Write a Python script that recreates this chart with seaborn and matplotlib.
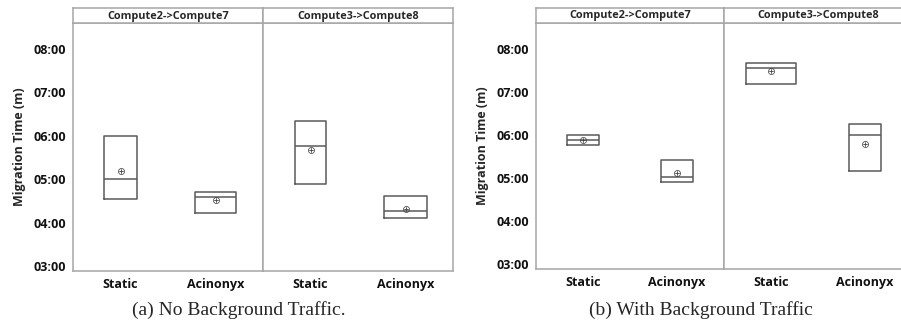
import numpy as np
import pandas as pd
import matplotlib
matplotlib.use("Agg")
import matplotlib.pyplot as plt
import matplotlib.ticker as ticker
import seaborn as sns

# categories
routes = ["Compute2->Compute7", "Compute3->Compute8"]
methods = ["Static", "Acinonyx"]
captions = ["(a) No Background Traffic.", "(b) With Background Traffic"]

# migration time in minutes, order: C2 Static, C2 Acinonyx, C3 Static, C3 Acinonyx
nobg_q1 = [4.54, 4.23, 4.89, 4.11]
nobg_med = [5.00, 4.60, 5.77, 4.26]
nobg_q3 = [6.00, 4.71, 6.35, 4.61]
nobg_mean = [5.18, 4.51, 5.67, 4.32]

bg_q1 = [5.77, 4.90, 7.19, 5.17]
bg_med = [5.89, 5.02, 7.55, 5.99]
bg_q3 = [5.99, 5.41, 7.67, 6.25]
bg_mean = [5.89, 5.11, 7.47, 5.79]

# box widths (category units)
nobg_w = [0.34, 0.43, 0.33, 0.45]
bg_w = [0.34, 0.33, 0.54, 0.34]

sns.set_style("white")
plt.rcParams["font.family"] = ["Open Sans", "DejaVu Sans"]

FRAME = "#a6a6a6"
BOXC = "#5a5a5a"


def mmss(v, pos=None):
    m = int(v)
    s = int(round((v - m) * 60))
    return "%02d:%02d" % (m, s)


def draw_chart(fig, left, bottom, pw, ph, q1, med, q3, mean, widths, caption, cap_x):
    df = pd.DataFrame({
        "route": np.repeat(routes, 2),
        "method": methods * 2,
        "q1": q1, "med": med, "q3": q3, "mean": mean, "w": widths,
    })
    axes = []
    for i, r in enumerate(routes):
        ax = fig.add_axes([left + i * pw, bottom, pw, ph])
        sub = df[df.route == r].reset_index(drop=True)
        stats = []
        for _, row in sub.iterrows():
            stats.append({"med": row.med, "q1": row.q1, "q3": row.q3,
                          "whislo": row.q1, "whishi": row.q3, "fliers": []})
        ax.bxp(stats, positions=[0, 1], widths=list(sub.w), showfliers=False,
               showcaps=False, patch_artist=False,
               boxprops=dict(color=BOXC, linewidth=1.1),
               medianprops=dict(color=BOXC, linewidth=1.1),
               whiskerprops=dict(linewidth=0))
        sns.scatterplot(x=[0, 1], y=sub["mean"].values, marker="$\\oplus$", s=24,
                        color="#444444", linewidth=0, ax=ax, zorder=5)
        ax.set_xlim(-0.5, 1.5)
        ax.set_ylim(2.885, 8.6)
        ax.set_xticks([0, 1])
        ax.set_xticklabels(methods, fontsize=9, fontweight="bold")
        ax.yaxis.set_major_locator(ticker.MultipleLocator(1))
        ax.yaxis.set_major_formatter(ticker.FuncFormatter(mmss))
        ax.tick_params(axis="both", length=3, width=0.8, color=FRAME,
                       labelsize=9, pad=2, labelcolor="#111111")
        for lab in ax.get_yticklabels():
            lab.set_fontweight("bold")
        for sp in ax.spines.values():
            sp.set_color(FRAME)
            sp.set_linewidth(1.1)
        if i == 0:
            ax.set_ylabel("Migration Time (m)", fontsize=9, fontweight="bold",
                          labelpad=5)
        else:
            ax.tick_params(axis="y", left=False, labelleft=False)
        ax.set_xlabel("")

        # facet strip
        sax = fig.add_axes([left + i * pw, bottom + ph, pw, 15 / 320])
        sax.set_xticks([])
        sax.set_yticks([])
        for sp in sax.spines.values():
            sp.set_color(FRAME)
            sp.set_linewidth(1.1)
        sax.text(0.5, 0.45, r, ha="center", va="center", fontsize=7.8,
                 fontweight="bold", transform=sax.transAxes)
        axes.append(ax)
    fig.text(cap_x, 10 / 320, caption, ha="center", va="center",
             fontsize=14, family="Liberation Serif")
    return axes


fig = plt.figure(figsize=(9.01, 3.2), dpi=100)
draw_chart(fig, 73 / 901, 49 / 320, 190 / 901, 248 / 320,
           nobg_q1, nobg_med, nobg_q3, nobg_mean, nobg_w, captions[0], 239 / 901)
draw_chart(fig, 536 / 901, 50.7 / 320, 188 / 901, 246.6 / 320,
           bg_q1, bg_med, bg_q3, bg_mean, bg_w, captions[1], 701 / 901)

plt.savefig("out.png", dpi=100)
plt.close()
